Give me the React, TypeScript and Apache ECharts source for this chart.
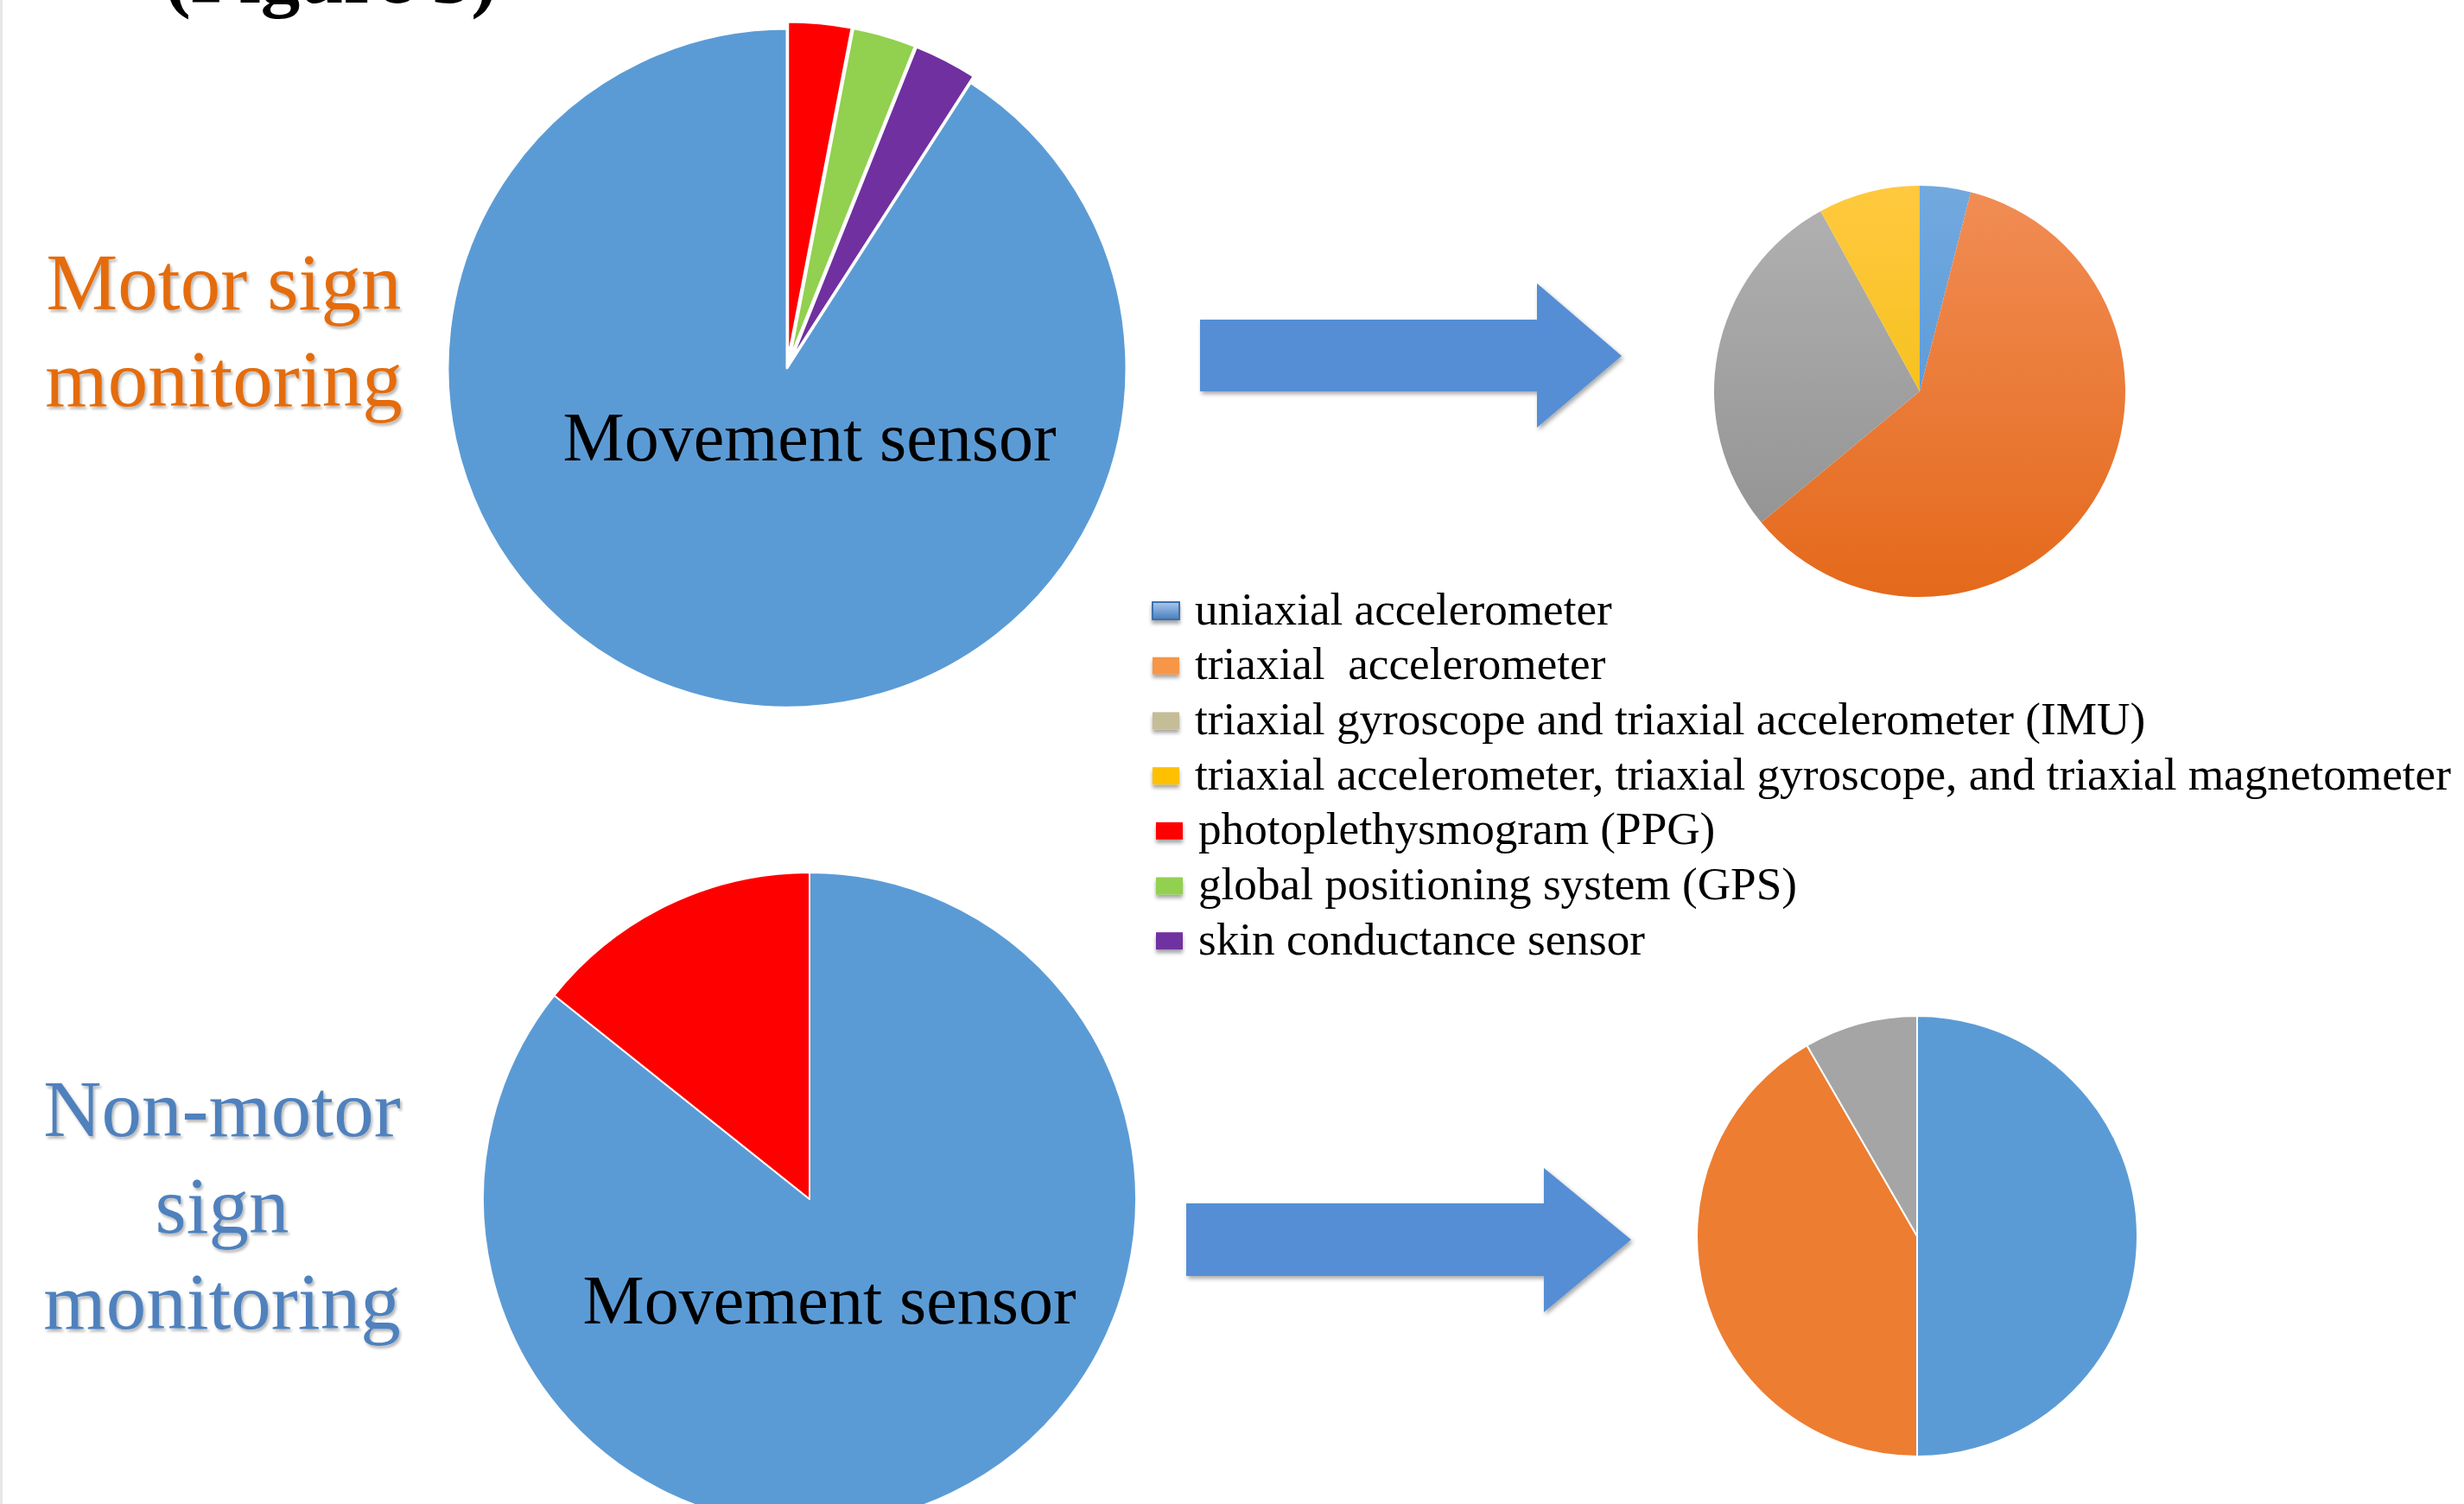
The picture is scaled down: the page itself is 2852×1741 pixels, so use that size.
import React, { useEffect, useRef } from "react";
import * as echarts from "echarts";

const W = 2852;
const H = 1741;
const SERIF = "'Liberation Serif', 'Times New Roman', Times, serif";

// ---- data ----
const motorLeftNames = [
  "photoplethysmogram (PPG)",
  "global positioning system (GPS)",
  "skin conductance sensor",
  "Movement sensor",
];
const motorLeftValues = [1, 1, 1, 30];

const nonMotorLeftNames = ["Movement sensor", "photoplethysmogram (PPG)"];
const nonMotorLeftValues = [6, 1];

const accelNames = [
  "uniaxial accelerometer",
  "triaxial  accelerometer",
  "triaxial gyroscope and triaxial accelerometer (IMU)",
  "triaxial accelerometer, triaxial gyroscope, and triaxial magnetometer",
];
const motorRightValues = [1, 15, 7, 2];
const nonMotorRightValues = [6, 5, 1];

const legendNames = [
  "uniaxial accelerometer",
  "triaxial  accelerometer",
  "triaxial gyroscope and triaxial accelerometer (IMU)",
  "triaxial accelerometer, triaxial gyroscope, and triaxial magnetometer",
  "photoplethysmogram (PPG)",
  "global positioning system (GPS)",
  "skin conductance sensor",
];
const legendColors = ["#5B9BD5", "#F79646", "#C4BD97", "#FFC000", "#FF0000", "#92D050", "#7030A0"];

const groupTitles = [
  { lines: ["Motor sign", "monitoring"], color: "#E46C0A" },
  { lines: ["Non-motor", "sign", "monitoring"], color: "#4F81BD" },
];

// ---- colours per slice ----
const leftColors: Record<string, string> = {
  "Movement sensor": "#5B9BD5",
  "photoplethysmogram (PPG)": "#FF0000",
  "global positioning system (GPS)": "#92D050",
  "skin conductance sensor": "#7030A0",
};
const rightTopGrad = [
  ["#72A9DE", "#4A8FD6"],
  ["#F18D55", "#E4691B"],
  ["#B2B2B2", "#8E8E8E"],
  ["#FFC93F", "#EDBA00"],
];
const rightBottomColors = ["#5B9BD5", "#ED7D31", "#A5A5A5"];

function buildOption() {
  const trTop = 215;
  const trBot = 691;

  const series: any[] = [
    {
      type: "pie",
      center: [911, 426],
      radius: 393,
      startAngle: 90,
      clockwise: true,
      selectedMode: "multiple",
      selectedOffset: 8,
      label: { show: false },
      labelLine: { show: false },
      emphasis: { disabled: true },
      select: { itemStyle: { borderColor: "#ffffff", borderWidth: 3 } },
      itemStyle: { borderColor: "#ffffff", borderWidth: 3 },
      data: motorLeftNames.map((n, i) => ({
        name: n,
        value: motorLeftValues[i],
        selected: n !== "Movement sensor",
        itemStyle: { color: leftColors[n] },
      })),
    },
    {
      type: "pie",
      center: [937, 1388],
      radius: 378,
      startAngle: 90,
      clockwise: true,
      label: { show: false },
      labelLine: { show: false },
      emphasis: { disabled: true },
      itemStyle: { borderColor: "#ffffff", borderWidth: 2 },
      data: nonMotorLeftNames.map((n, i) => ({
        name: n,
        value: nonMotorLeftValues[i],
        itemStyle: { color: leftColors[n] },
      })),
    },
    {
      type: "pie",
      center: [2222, 453],
      radius: 238,
      startAngle: 90,
      clockwise: true,
      label: { show: false },
      labelLine: { show: false },
      emphasis: { disabled: true },
      itemStyle: { borderWidth: 0 },
      data: accelNames.map((n, i) => ({
        name: n,
        value: motorRightValues[i],
        itemStyle: {
          color: {
            type: "linear",
            x: 0,
            y: trTop,
            x2: 0,
            y2: trBot,
            global: true,
            colorStops: [
              { offset: 0, color: rightTopGrad[i][0] },
              { offset: 1, color: rightTopGrad[i][1] },
            ],
          },
        },
      })),
    },
    {
      type: "pie",
      center: [2219, 1431],
      radius: 255,
      startAngle: 90,
      clockwise: true,
      label: { show: false },
      labelLine: { show: false },
      emphasis: { disabled: true },
      itemStyle: { borderColor: "#ffffff", borderWidth: 2 },
      data: nonMotorRightValues.map((v, i) => ({
        name: accelNames[i],
        value: v,
        itemStyle: { color: rightBottomColors[i] },
      })),
    },
  ];

  const graphics: any[] = [];

  // faint left border
  graphics.push({
    type: "rect",
    z: 1,
    shape: { x: 0, y: 0, width: 3, height: H },
    style: { fill: "#E6E6E6" },
  });

  // cut-off figure caption at the top
  graphics.push({
    type: "text",
    z: 10,
    x: 383,
    y: -28,
    style: {
      text: "(Figure 3)",
      font: `bold 91px ${SERIF}`,
      fill: "#000000",
      align: "center",
      verticalAlign: "middle",
    },
  });

  // group titles
  const titleBaselines = [
    [358, 470],
    [1315, 1427, 1538],
  ];
  const titleX = [259, 257];
  groupTitles.forEach((g, gi) => {
    g.lines.forEach((line, li) => {
      graphics.push({
        type: "text",
        z: 10,
        x: titleX[gi],
        y: titleBaselines[gi][li] - 31.4,
        style: {
          text: line,
          font: `93px ${SERIF}`,
          fill: g.color,
          align: "center",
          verticalAlign: "middle",
          textShadowColor: "rgba(0,0,0,0.28)",
          textShadowBlur: 3,
          textShadowOffsetX: 2,
          textShadowOffsetY: 3,
        },
      });
    });
  });

  // slice labels "Movement sensor"
  const msPos = [
    [937, 533],
    [960, 1532],
  ];
  msPos.forEach(([x, b]) => {
    graphics.push({
      type: "text",
      z: 10,
      x,
      y: b - 27,
      style: {
        text: "Movement sensor",
        font: `80px ${SERIF}`,
        fill: "#000000",
        align: "center",
        verticalAlign: "middle",
      },
    });
  });

  // arrows
  const arrows = [
    [
      [1389, 370],
      [1779, 370],
      [1779, 328],
      [1877, 412],
      [1779, 495],
      [1779, 453],
      [1389, 453],
    ],
    [
      [1373, 1393],
      [1787, 1393],
      [1787, 1352],
      [1888, 1435],
      [1787, 1519],
      [1787, 1477],
      [1373, 1477],
    ],
  ];
  arrows.forEach((pts) => {
    graphics.push({
      type: "polygon",
      z: 5,
      shape: { points: pts },
      style: {
        fill: "#558ED5",
        shadowColor: "rgba(0,0,0,0.35)",
        shadowBlur: 5,
        shadowOffsetX: 2,
        shadowOffsetY: 3,
      },
    });
  });

  // legend
  legendNames.forEach((n, i) => {
    const base = 723 + i * 63.7;
    const shift = i >= 4 ? 4 : 0;
    const fill =
      i === 0
        ? {
            type: "linear",
            x: 0,
            y: 0,
            x2: 0,
            y2: 1,
            colorStops: [
              { offset: 0, color: "#A9C8EE" },
              { offset: 1, color: "#4A7EBB" },
            ],
          }
        : legendColors[i];
    graphics.push({
      type: "rect",
      z: 10,
      shape: { x: 1334 + shift, y: base - 16 - 10, width: 31, height: 20 },
      style: {
        fill,
        stroke: i === 0 ? "#3E70AE" : null,
        lineWidth: i === 0 ? 2 : 0,
        shadowColor: "rgba(0,0,0,0.35)",
        shadowBlur: 4,
        shadowOffsetX: 0,
        shadowOffsetY: 4,
      },
    });
    graphics.push({
      type: "text",
      z: 10,
      x: 1383 + shift,
      y: base - 17.9,
      style: {
        text: n,
        font: `53.2px ${SERIF}`,
        fill: "#000000",
        align: "left",
        verticalAlign: "middle",
      },
    });
  });

  return {
    animation: false,
    backgroundColor: "#ffffff",
    series,
    graphic: graphics,
  };
}

export default function App() {
  const ref = useRef<HTMLDivElement>(null);
  useEffect(() => {
    document.body.style.margin = "0";
    const chart = echarts.init(ref.current as HTMLDivElement, null, {
      renderer: "svg",
      width: W,
      height: H,
    });
    chart.setOption(buildOption() as any);
    return () => {
      chart.dispose();
    };
  }, []);
  return (
    <div
      ref={ref}
      style={{ position: "absolute", left: 0, top: 0, width: W, height: H, background: "#ffffff", overflow: "hidden" }}
    />
  );
}
